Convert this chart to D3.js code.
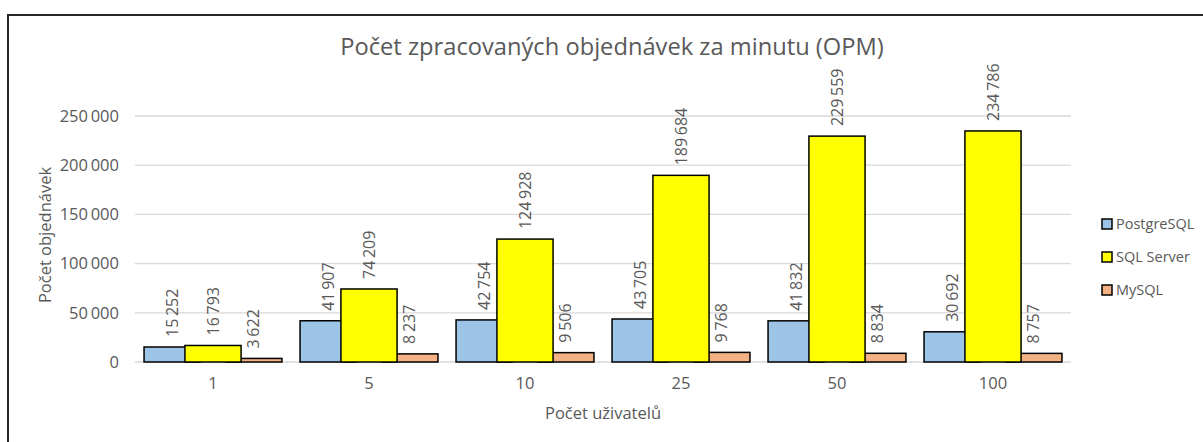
<!DOCTYPE html>
<html>
<head>
<meta charset="utf-8">
<script src="https://cdn.jsdelivr.net/npm/d3@7"></script>
<style>
  body { margin: 0; background: #fff; }
  text { font-family: "Open Sans", sans-serif; fill: #595959; }
</style>
</head>
<body>
<div id="chart"></div>
<script>
// data
var users = ["1", "5", "10", "25", "50", "100"];
var seriesNames = ["PostgreSQL", "SQL Server", "MySQL"];
var postgres = [15252, 41907, 42754, 43705, 41832, 30692];
var sqlServer = [16793, 74209, 124928, 189684, 229559, 234786];
var mysql = [3622, 8237, 9506, 9768, 8834, 8757];
var yTicks = [0, 50000, 100000, 150000, 200000, 250000];
var colors = ["#9dc3e6", "#ffff00", "#f4b183"];

var W = 1203, H = 442;
var margin = {top: 116, left: 135, right: 132, bottom: 80};
var width = W - margin.left - margin.right,
    height = H - margin.top - margin.bottom;

var fmt = function(v) {
  return d3.format(",")(v).replace(/,/g, "\u2009");
};

var svg = d3.select("#chart").append("svg")
    .attr("width", W)
    .attr("height", H);

// outer frame (cropped on right and bottom)
svg.append("rect")
    .attr("x", 8).attr("y", 15)
    .attr("width", W).attr("height", H)
    .attr("fill", "none")
    .attr("stroke", "#262626")
    .attr("stroke-width", 2);

var g = svg.append("g")
    .attr("transform", "translate(" + margin.left + "," + margin.top + ")");

var x = d3.scaleBand().domain(users).range([0, width]).paddingInner(0).paddingOuter(0);
var y = d3.scaleLinear().domain([0, 250000]).range([height, 0]);

// gridlines
g.append("g")
  .selectAll("line")
  .data(yTicks)
  .enter().append("line")
    .attr("x1", 0).attr("x2", width)
    .attr("y1", function(d) { return y(d); })
    .attr("y2", function(d) { return y(d); })
    .attr("stroke", "#d9d9d9")
    .attr("stroke-width", 1.3);

// y tick labels
var yAxis = g.append("g")
    .call(d3.axisLeft(y).tickValues(yTicks).tickFormat(fmt).tickSize(0).tickPadding(16));
yAxis.select(".domain").remove();
yAxis.selectAll("text")
    .style("font-size", "16.5px")
    .attr("fill", "#595959");

// x tick labels
var xAxis = g.append("g")
    .attr("transform", "translate(0," + height + ")")
    .call(d3.axisBottom(x).tickSize(0).tickPadding(15));
xAxis.select(".domain").remove();
xAxis.selectAll("text")
    .style("font-size", "16.5px")
    .attr("fill", "#595959");

// bars: width and overlapping step
var barW = x.bandwidth() * 0.36;
var step = x.bandwidth() * 0.262;
var series = [
  {name: seriesNames[0], values: postgres, off: -1, color: colors[0]},
  {name: seriesNames[1], values: sqlServer, off: 0, color: colors[1]},
  {name: seriesNames[2], values: mysql, off: 1, color: colors[2]}
];
// yellow drawn last so it sits on top of the overlap
var drawOrder = [series[0], series[2], series[1]];

drawOrder.forEach(function(s) {
  g.append("g")
    .selectAll("rect")
    .data(s.values)
    .enter().append("rect")
      .attr("x", function(d, i) { return x(users[i]) + x.bandwidth() / 2 + s.off * step - barW / 2; })
      .attr("y", function(d) { return y(d); })
      .attr("width", barW)
      .attr("height", function(d) { return height - y(d); })
      .attr("fill", s.color)
      .attr("stroke", "#000")
      .attr("stroke-width", 1.5);
});

// value labels, rotated
series.forEach(function(s) {
  g.append("g")
    .selectAll("text")
    .data(s.values)
    .enter().append("text")
      .attr("transform", function(d, i) {
        var cx = x(users[i]) + x.bandwidth() / 2 + s.off * step;
        return "translate(" + cx + "," + (y(d) - 10) + ") rotate(-90)";
      })
      .attr("dy", "0.35em")
      .attr("text-anchor", "start")
      .style("font-size", "16px")
      .attr("fill", "#404040")
      .text(function(d) { return fmt(d); });
});

// title
svg.append("text")
    .attr("x", 612).attr("y", 55)
    .attr("text-anchor", "middle")
    .style("font-size", "23.7px")
    .text("Počet zpracovaných objednávek za minutu (OPM)");

// axis titles
svg.append("text")
    .attr("transform", "translate(51," + (margin.top + height / 2 - 4) + ") rotate(-90)")
    .attr("text-anchor", "middle")
    .style("font-size", "16.5px")
    .text("Počet objednávek");

svg.append("text")
    .attr("x", margin.left + width / 2).attr("y", 419)
    .attr("text-anchor", "middle")
    .style("font-size", "16.5px")
    .text("Počet uživatelů");

// legend
var legend = svg.append("g")
    .attr("transform", "translate(1102,219)");
var items = legend.selectAll("g")
    .data(series)
    .enter().append("g")
      .attr("transform", function(d, i) { return "translate(0," + i * 33 + ")"; });
items.append("rect")
    .attr("width", 10).attr("height", 10)
    .attr("fill", function(d) { return d.color; })
    .attr("stroke", "#000")
    .attr("stroke-width", 1.5);
items.append("text")
    .attr("x", 14).attr("y", 5)
    .attr("dy", "0.35em")
    .style("font-size", "14.5px")
    .text(function(d) { return d.name; });
</script>
</body>
</html>
